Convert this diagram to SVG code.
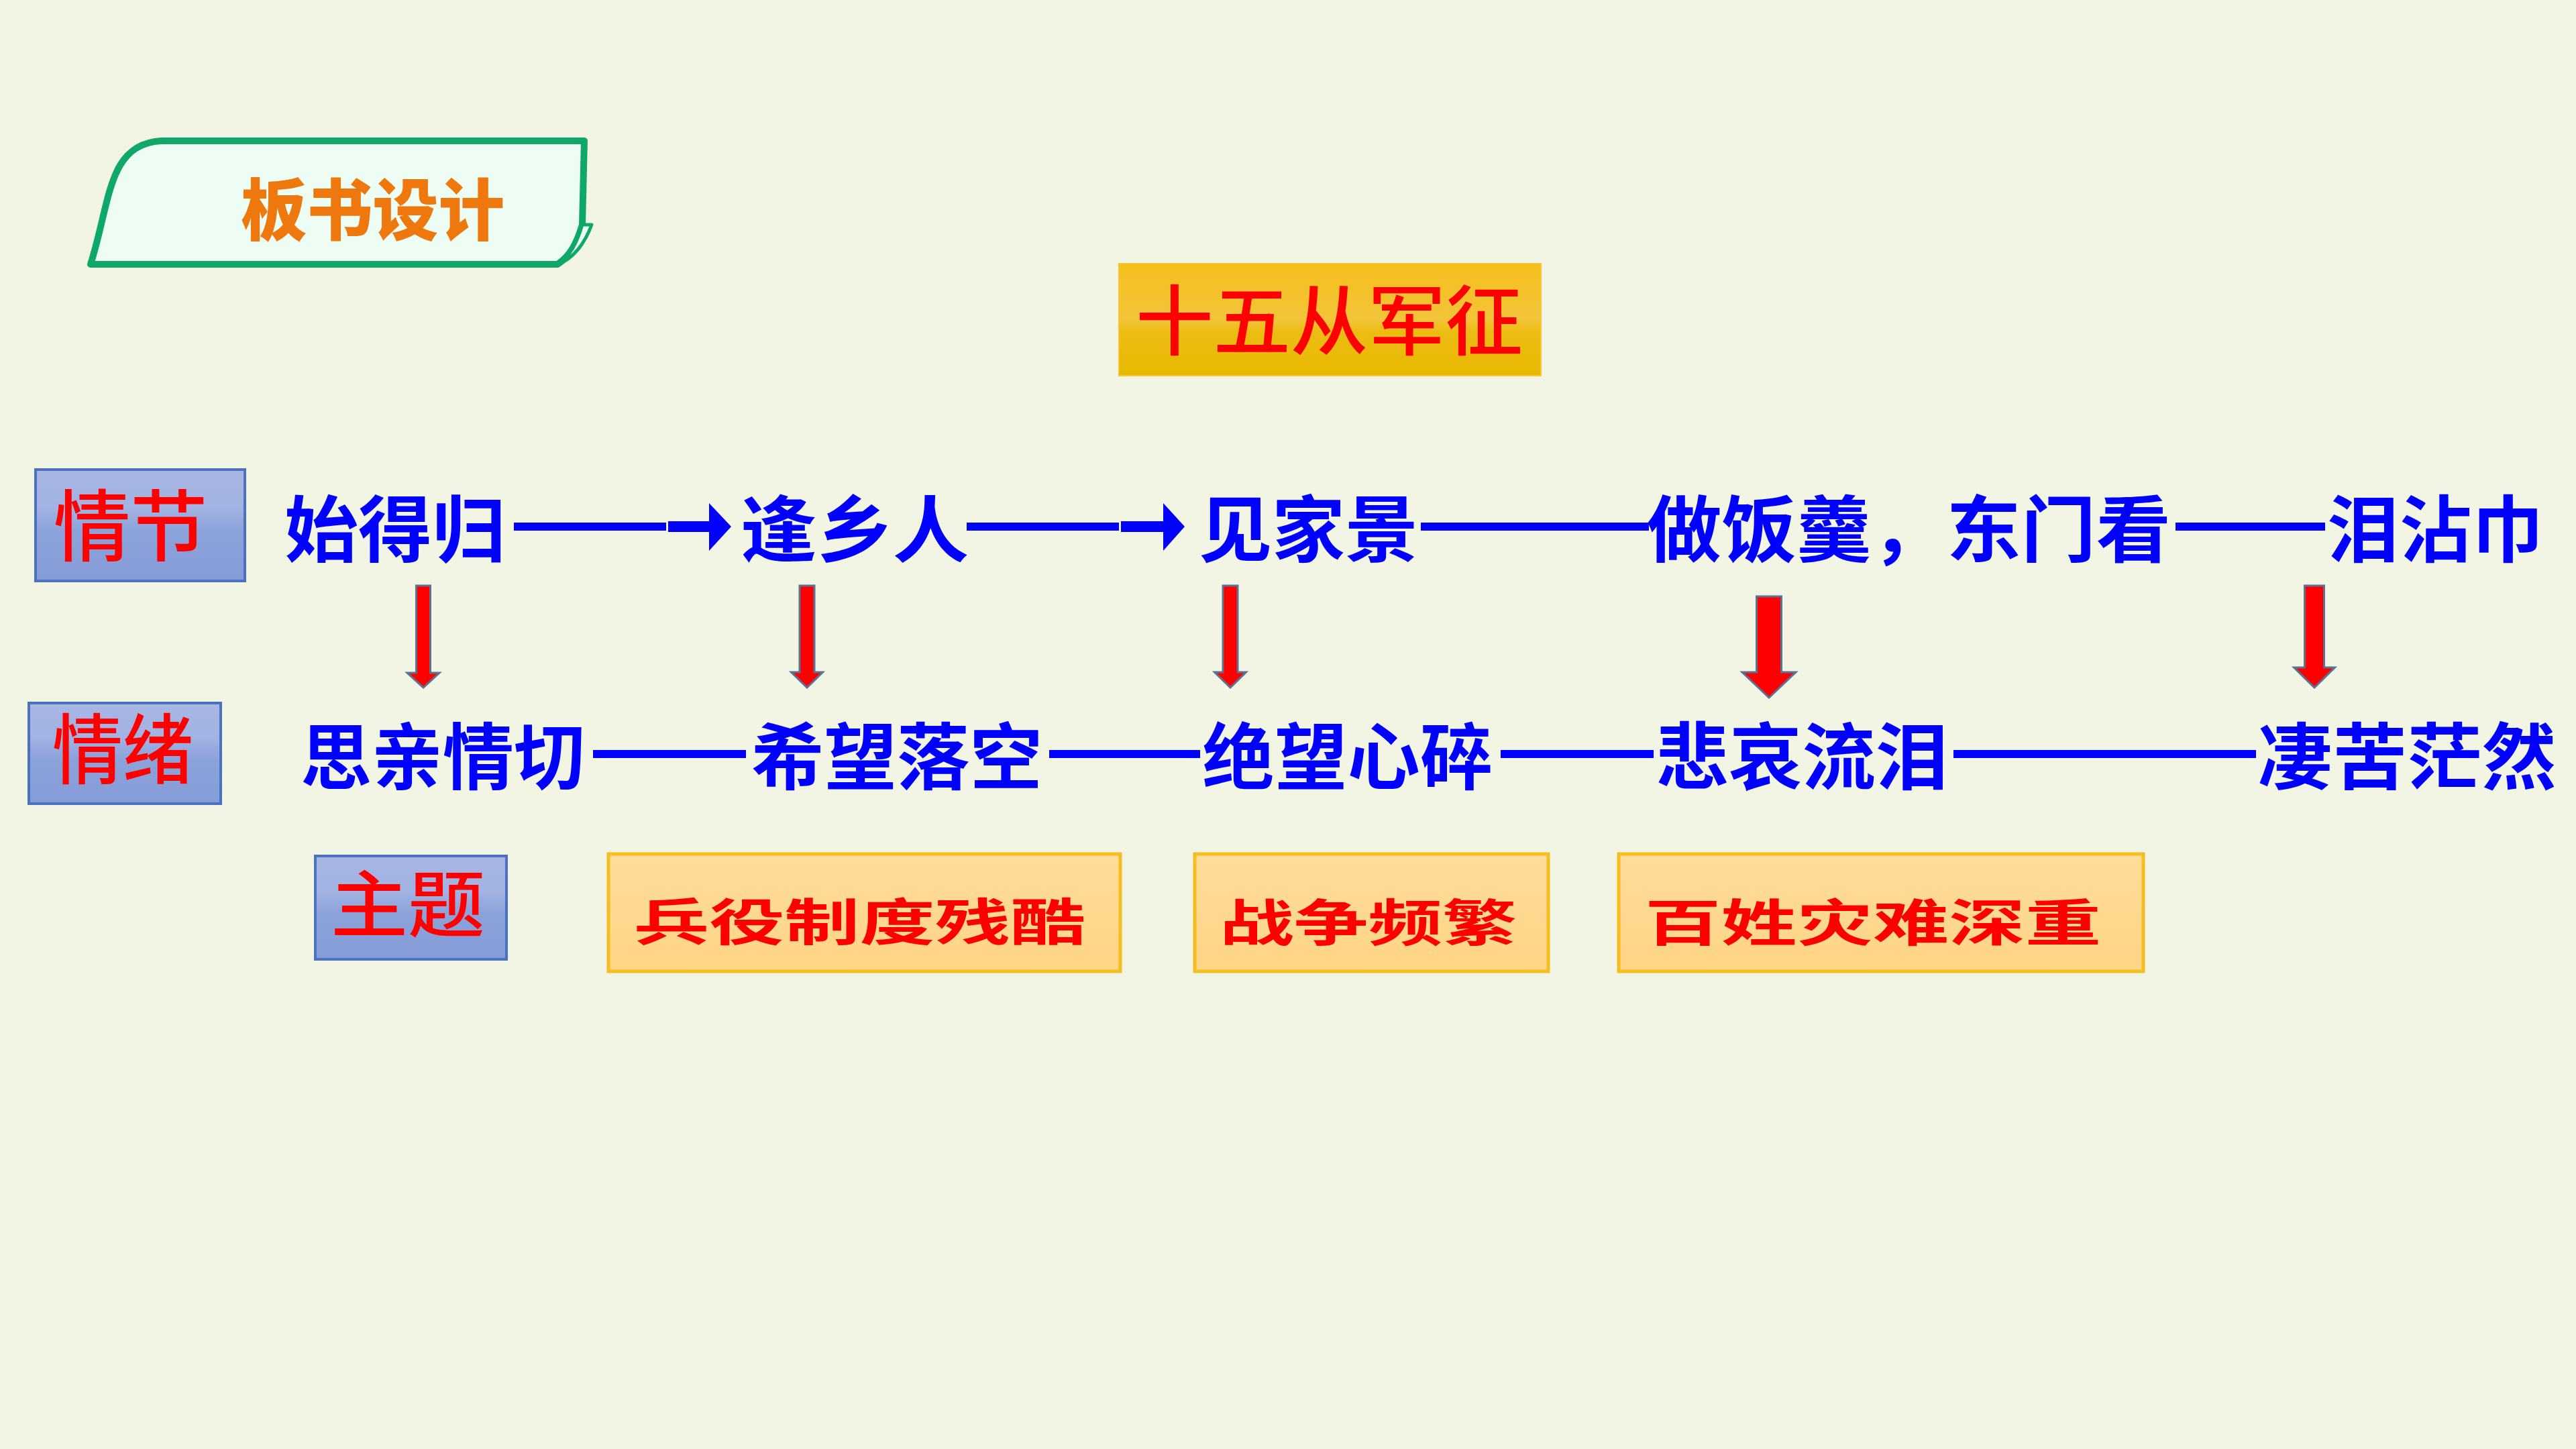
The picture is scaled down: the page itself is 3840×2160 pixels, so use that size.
<svg xmlns="http://www.w3.org/2000/svg" width="3840" height="2160" viewBox="0 0 3840 2160">
<defs>
<linearGradient id="gBlue" x1="0" y1="0" x2="0" y2="1">
<stop offset="0" stop-color="#A7B6E3"/>
<stop offset="0.35" stop-color="#A2B2E2"/>
<stop offset="0.55" stop-color="#8CA2DA"/>
<stop offset="1" stop-color="#859CD8"/>
</linearGradient>
<linearGradient id="gGold" x1="0" y1="0" x2="0" y2="1">
<stop offset="0" stop-color="#F6BF1C"/>
<stop offset="0.5" stop-color="#F3C43A"/>
<stop offset="0.6" stop-color="#EDBC14"/>
<stop offset="1" stop-color="#E9B800"/>
</linearGradient>
<linearGradient id="gOrange" x1="0" y1="0" x2="0" y2="1">
<stop offset="0" stop-color="#FFDC9A"/>
<stop offset="1" stop-color="#FFD585"/>
</linearGradient>
<style>
.bg{fill:#F2F5E4}
.lab{fill:url(#gBlue);stroke:#4A72C0;stroke-width:4}
.theme{fill:url(#gOrange);stroke:#F5BE1E;stroke-width:5}
.red{fill:#FF0000;font-family:"Noto Sans CJK SC","Noto Sans CJK TC",sans-serif;font-weight:500}
.redb{fill:#FF0000;font-family:"Noto Sans CJK SC","Noto Sans CJK TC",sans-serif;font-weight:700;font-size:75px}
.blue{fill:#0000FF;font-family:"Noto Sans CJK SC","Noto Sans CJK TC",sans-serif;font-weight:700;font-size:108px}
.bl{fill:#0000FF}
.down{fill:#FF0000;stroke:#5B7391;stroke-width:3}
</style>
</defs>
<rect class="bg" x="0" y="0" width="3840" height="2160"/>

<g id="tab">
<path d="M135,394 C165,300 160,215 240,210 L871,210 L868,335 C860,362 850,382 831,394 Z" fill="#EDFDF4" stroke="#10A86A" stroke-width="10" stroke-linejoin="round"/>
<path d="M868,335 L882,335 C872,362 855,386 831,394 C850,382 860,362 868,335 Z" fill="#EDFDF4" stroke="#10A86A" stroke-width="5" stroke-linejoin="round"/>
<text x="359" y="350" font-family="'Noto Sans CJK SC',sans-serif" font-weight="900" font-size="100" fill="#EE780E" textLength="393" lengthAdjust="spacingAndGlyphs">板书设计</text>
</g>

<g id="title">
<rect x="1668" y="393" width="629" height="167" fill="url(#gGold)" stroke="#F4C630" stroke-width="2"/>
<text class="red" x="1693" y="520" font-size="114" textLength="577" lengthAdjust="spacingAndGlyphs">十五从军征</text>
</g>

<g id="label-plot">
<rect class="lab" x="53" y="700" width="312" height="166"/>
<text class="red" x="80" y="827" font-size="116" textLength="229" lengthAdjust="spacingAndGlyphs">情节</text>
</g>
<g id="label-emotion">
<rect class="lab" x="43" y="1048" width="286" height="150"/>
<text class="red" x="78" y="1159" font-size="114" textLength="210" lengthAdjust="spacingAndGlyphs">情绪</text>
</g>
<g id="label-theme">
<rect class="lab" x="470" y="1276" width="285" height="154"/>
<text class="red" x="493" y="1388" font-size="108" textLength="230" lengthAdjust="spacingAndGlyphs">主题</text>
</g>

<g id="plot-1"><text class="blue" x="424" y="829" textLength="330" lengthAdjust="spacingAndGlyphs">始得归</text></g>
<g id="plot-2"><text class="blue" x="1104" y="829" textLength="340" lengthAdjust="spacingAndGlyphs">逢乡人</text></g>
<g id="plot-3"><text class="blue" x="1787" y="829" textLength="327" lengthAdjust="spacingAndGlyphs">见家景</text></g>
<g id="plot-4"><text class="blue" x="2455" y="829" textLength="781" lengthAdjust="spacingAndGlyphs">做饭羹，东门看</text></g>
<g id="plot-5"><text class="blue" x="3469" y="829" textLength="323" lengthAdjust="spacingAndGlyphs">泪沾巾</text></g>

<g id="emotion-1"><text class="blue" x="448" y="1168" textLength="424" lengthAdjust="spacingAndGlyphs">思亲情切</text></g>
<g id="emotion-2"><text class="blue" x="1120" y="1168" textLength="434" lengthAdjust="spacingAndGlyphs">希望落空</text></g>
<g id="emotion-3"><text class="blue" x="1792" y="1168" textLength="433" lengthAdjust="spacingAndGlyphs">绝望心碎</text></g>
<g id="emotion-4"><text class="blue" x="2468" y="1168" textLength="437" lengthAdjust="spacingAndGlyphs">悲哀流泪</text></g>
<g id="emotion-5"><text class="blue" x="3366" y="1168" textLength="445" lengthAdjust="spacingAndGlyphs">凄苦茫然</text></g>

<g id="theme-1">
<rect class="theme" x="907" y="1273" width="763" height="175"/>
<text class="redb" x="945" y="1402" textLength="673" lengthAdjust="spacingAndGlyphs">兵役制度残酷</text>
</g>
<g id="theme-2">
<rect class="theme" x="1781" y="1273" width="527" height="175"/>
<text class="redb" x="1818" y="1403" textLength="443" lengthAdjust="spacingAndGlyphs">战争频繁</text>
</g>
<g id="theme-3">
<rect class="theme" x="2413" y="1273" width="782" height="175"/>
<text class="redb" x="2452" y="1403" textLength="680" lengthAdjust="spacingAndGlyphs">百姓灾难深重</text>
</g>

<g id="connectors">
<rect class="bl" x="766" y="779" width="227" height="12"/>
<polygon class="bl" points="996,777 1057,777 1057,750 1090,785 1057,821 1057,793 996,793"/>
<rect class="bl" x="1441" y="779" width="227" height="12"/>
<polygon class="bl" points="1671,777 1734,777 1734,750 1766,785 1734,821 1734,793 1671,793"/>
<rect class="bl" x="2118" y="779" width="340" height="12"/>
<rect class="bl" x="3243" y="779" width="223" height="12"/>

<rect class="bl" x="884" y="1118" width="228" height="12"/>
<rect class="bl" x="1564" y="1118" width="225" height="12"/>
<rect class="bl" x="2237" y="1118" width="228" height="12"/>
<rect class="bl" x="2912" y="1118" width="451" height="12"/>

<polygon class="down" points="620.5,873 641.5,873 641.5,1003 655,1003 631,1025 607,1003 620.5,1003"/>
<polygon class="down" points="1192,873 1214,873 1214,1002 1226.5,1002 1203,1025 1179.5,1002 1192,1002"/>
<polygon class="down" points="1823,873 1845,873 1845,1002 1857.5,1002 1834,1025 1810.5,1002 1823,1002"/>
<polygon class="down" points="2618.5,889 2655.5,889 2655.5,1002 2677,1002 2637,1040 2597,1002 2618.5,1002"/>
<polygon class="down" points="3435.5,873 3464.5,873 3464.5,995 3480.5,995 3450,1025 3419.5,995 3435.5,995"/>
</g>
</svg>
